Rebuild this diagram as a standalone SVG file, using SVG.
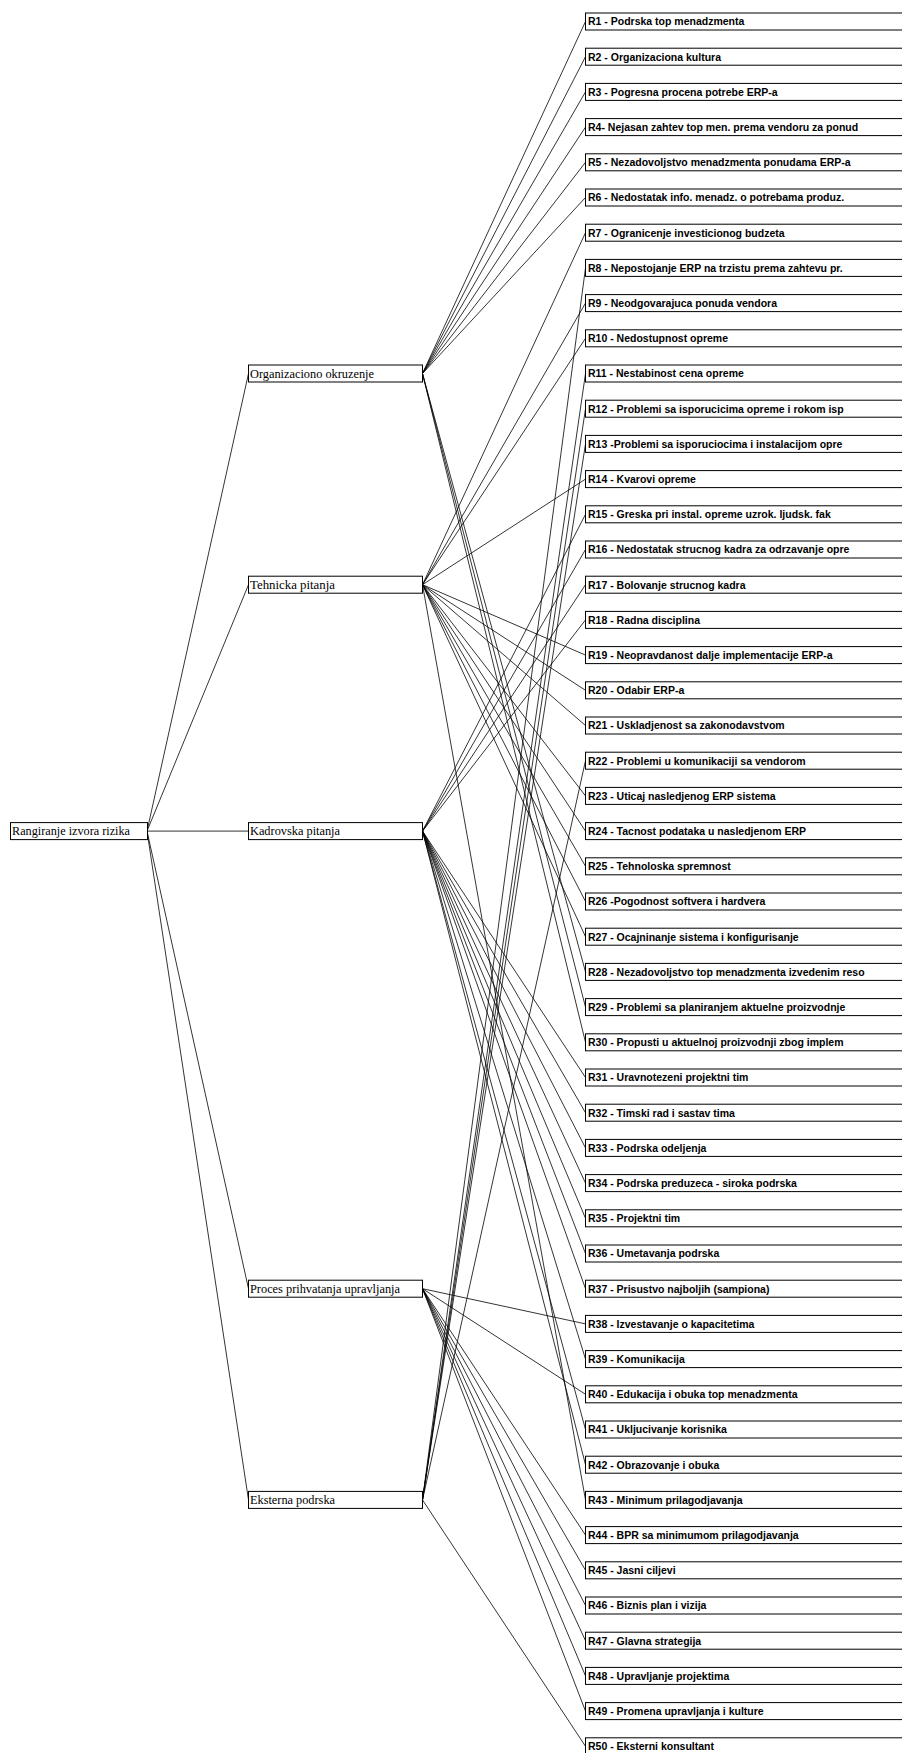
<svg xmlns="http://www.w3.org/2000/svg" width="902" height="1753" viewBox="0 0 902 1753">
<style>
.box{fill:#fff;stroke:#000;stroke-width:1}
.r{font-family:"Liberation Sans",Arial,sans-serif;font-size:10.5px;font-weight:bold;fill:#000}
.m{font-family:"Liberation Serif","Times New Roman",serif;font-size:12px;fill:#000}
.c line{stroke:#000;stroke-width:0.8}
</style>
<rect width="902" height="1753" fill="#fff"/>
<g id="connectors" class="c">
<line x1="147" y1="831.1" x2="248.5" y2="373.5"/>
<line x1="147" y1="831.1" x2="248.5" y2="584.7"/>
<line x1="147" y1="831.1" x2="248.5" y2="831.1"/>
<line x1="147" y1="831.1" x2="248.5" y2="1288.7"/>
<line x1="147" y1="831.1" x2="248.5" y2="1499.9"/>
<!-- Org -->
<line x1="422.5" y1="373.5" x2="585.5" y2="21.5"/>
<line x1="422.5" y1="373.5" x2="585.5" y2="56.7"/>
<line x1="422.5" y1="373.5" x2="585.5" y2="91.9"/>
<line x1="422.5" y1="373.5" x2="585.5" y2="127.1"/>
<line x1="422.5" y1="373.5" x2="585.5" y2="162.3"/>
<line x1="422.5" y1="373.5" x2="585.5" y2="197.5"/>
<line x1="422.5" y1="373.5" x2="585.5" y2="971.9"/>
<line x1="422.5" y1="373.5" x2="585.5" y2="1007.1"/>
<line x1="422.5" y1="373.5" x2="585.5" y2="1042.3"/>
<!-- Teh -->
<line x1="422.5" y1="584.7" x2="585.5" y2="232.7"/>
<line x1="422.5" y1="584.7" x2="585.5" y2="303.1"/>
<line x1="422.5" y1="584.7" x2="585.5" y2="338.3"/>
<line x1="422.5" y1="584.7" x2="585.5" y2="479.1"/>
<line x1="422.5" y1="584.7" x2="585.5" y2="655.1"/>
<line x1="422.5" y1="584.7" x2="585.5" y2="690.3"/>
<line x1="422.5" y1="584.7" x2="585.5" y2="725.5"/>
<line x1="422.5" y1="584.7" x2="585.5" y2="795.9"/>
<line x1="422.5" y1="584.7" x2="585.5" y2="831.1"/>
<line x1="422.5" y1="584.7" x2="585.5" y2="866.3"/>
<line x1="422.5" y1="584.7" x2="585.5" y2="901.5"/>
<line x1="422.5" y1="584.7" x2="585.5" y2="936.7"/>
<line x1="422.5" y1="584.7" x2="585.5" y2="1499.9"/>
<!-- Kadr -->
<line x1="422.5" y1="831.1" x2="585.5" y2="514.3"/>
<line x1="422.5" y1="831.1" x2="585.5" y2="549.5"/>
<line x1="422.5" y1="831.1" x2="585.5" y2="584.7"/>
<line x1="422.5" y1="831.1" x2="585.5" y2="619.9"/>
<line x1="422.5" y1="831.1" x2="585.5" y2="1077.5"/>
<line x1="422.5" y1="831.1" x2="585.5" y2="1112.7"/>
<line x1="422.5" y1="831.1" x2="585.5" y2="1147.9"/>
<line x1="422.5" y1="831.1" x2="585.5" y2="1183.1"/>
<line x1="422.5" y1="831.1" x2="585.5" y2="1218.3"/>
<line x1="422.5" y1="831.1" x2="585.5" y2="1253.5"/>
<line x1="422.5" y1="831.1" x2="585.5" y2="1288.7"/>
<line x1="422.5" y1="831.1" x2="585.5" y2="1359.1"/>
<line x1="422.5" y1="831.1" x2="585.5" y2="1429.5"/>
<line x1="422.5" y1="831.1" x2="585.5" y2="1464.7"/>
<!-- Proces -->
<line x1="422.5" y1="1288.7" x2="585.5" y2="1323.9"/>
<line x1="422.5" y1="1288.7" x2="585.5" y2="1394.3"/>
<line x1="422.5" y1="1288.7" x2="585.5" y2="1535.1"/>
<line x1="422.5" y1="1288.7" x2="585.5" y2="1570.3"/>
<line x1="422.5" y1="1288.7" x2="585.5" y2="1605.5"/>
<line x1="422.5" y1="1288.7" x2="585.5" y2="1640.7"/>
<line x1="422.5" y1="1288.7" x2="585.5" y2="1675.9"/>
<line x1="422.5" y1="1288.7" x2="585.5" y2="1711.1"/>
<!-- Eksterna -->
<line x1="422.5" y1="1499.9" x2="585.5" y2="267.9"/>
<line x1="422.5" y1="1499.9" x2="585.5" y2="373.5"/>
<line x1="422.5" y1="1499.9" x2="585.5" y2="408.7"/>
<line x1="422.5" y1="1499.9" x2="585.5" y2="443.9"/>
<line x1="422.5" y1="1499.9" x2="585.5" y2="760.7"/>
<line x1="422.5" y1="1499.9" x2="585.5" y2="1746.3"/>
</g>
<g id="root"><rect class="box" x="10.5" y="822.6" width="137" height="17"/><text class="m" x="12" y="835.3" textLength="118" lengthAdjust="spacingAndGlyphs">Rangiranje izvora rizika</text></g>
<g id="org"><rect class="box" x="248.5" y="365" width="174" height="17"/><text class="m" x="250" y="377.7" textLength="124" lengthAdjust="spacingAndGlyphs">Organizaciono okruzenje</text></g>
<g id="teh"><rect class="box" x="248.5" y="576.2" width="174" height="17"/><text class="m" x="250" y="588.9" textLength="85" lengthAdjust="spacingAndGlyphs">Tehnicka pitanja</text></g>
<g id="kadr"><rect class="box" x="248.5" y="822.6" width="174" height="17"/><text class="m" x="250" y="835.3" textLength="90" lengthAdjust="spacingAndGlyphs">Kadrovska pitanja</text></g>
<g id="proc"><rect class="box" x="248.5" y="1280.2" width="174" height="17"/><text class="m" x="250" y="1292.9" textLength="150" lengthAdjust="spacingAndGlyphs">Proces prihvatanja upravljanja</text></g>
<g id="eks"><rect class="box" x="248.5" y="1491.4" width="174" height="17"/><text class="m" x="250" y="1504.1" textLength="85" lengthAdjust="spacingAndGlyphs">Eksterna podrska</text></g>
<g id="R1"><rect class="box" x="585.5" y="13" width="330" height="17"/><text class="r" x="588" y="25.3">R1 - Podrska top menadzmenta</text></g>
<g id="R2"><rect class="box" x="585.5" y="48.2" width="330" height="17"/><text class="r" x="588" y="60.5">R2 - Organizaciona kultura</text></g>
<g id="R3"><rect class="box" x="585.5" y="83.4" width="330" height="17"/><text class="r" x="588" y="95.7">R3 - Pogresna procena potrebe ERP-a</text></g>
<g id="R4"><rect class="box" x="585.5" y="118.6" width="330" height="17"/><text class="r" x="588" y="130.9">R4- Nejasan zahtev top men. prema vendoru za ponud</text></g>
<g id="R5"><rect class="box" x="585.5" y="153.8" width="330" height="17"/><text class="r" x="588" y="166.1">R5 - Nezadovoljstvo menadzmenta ponudama ERP-a</text></g>
<g id="R6"><rect class="box" x="585.5" y="189" width="330" height="17"/><text class="r" x="588" y="201.3">R6 - Nedostatak info. menadz. o potrebama produz.</text></g>
<g id="R7"><rect class="box" x="585.5" y="224.2" width="330" height="17"/><text class="r" x="588" y="236.5">R7 - Ogranicenje investicionog budzeta</text></g>
<g id="R8"><rect class="box" x="585.5" y="259.4" width="330" height="17"/><text class="r" x="588" y="271.7">R8 - Nepostojanje ERP na trzistu prema zahtevu pr.</text></g>
<g id="R9"><rect class="box" x="585.5" y="294.6" width="330" height="17"/><text class="r" x="588" y="306.9">R9 - Neodgovarajuca ponuda vendora</text></g>
<g id="R10"><rect class="box" x="585.5" y="329.8" width="330" height="17"/><text class="r" x="588" y="342.1">R10 - Nedostupnost opreme</text></g>
<g id="R11"><rect class="box" x="585.5" y="365" width="330" height="17"/><text class="r" x="588" y="377.3">R11 - Nestabinost cena opreme</text></g>
<g id="R12"><rect class="box" x="585.5" y="400.2" width="330" height="17"/><text class="r" x="588" y="412.5">R12 - Problemi sa isporucicima opreme i rokom isp</text></g>
<g id="R13"><rect class="box" x="585.5" y="435.4" width="330" height="17"/><text class="r" x="588" y="447.7">R13 -Problemi sa isporuciocima i instalacijom opre</text></g>
<g id="R14"><rect class="box" x="585.5" y="470.6" width="330" height="17"/><text class="r" x="588" y="482.9">R14 - Kvarovi opreme</text></g>
<g id="R15"><rect class="box" x="585.5" y="505.8" width="330" height="17"/><text class="r" x="588" y="518.1">R15 - Greska pri instal. opreme uzrok. ljudsk. fak</text></g>
<g id="R16"><rect class="box" x="585.5" y="541" width="330" height="17"/><text class="r" x="588" y="553.3">R16 - Nedostatak strucnog kadra za odrzavanje opre</text></g>
<g id="R17"><rect class="box" x="585.5" y="576.2" width="330" height="17"/><text class="r" x="588" y="588.5">R17 - Bolovanje strucnog kadra</text></g>
<g id="R18"><rect class="box" x="585.5" y="611.4" width="330" height="17"/><text class="r" x="588" y="623.7">R18 - Radna disciplina</text></g>
<g id="R19"><rect class="box" x="585.5" y="646.6" width="330" height="17"/><text class="r" x="588" y="658.9">R19 - Neopravdanost dalje implementacije ERP-a</text></g>
<g id="R20"><rect class="box" x="585.5" y="681.8" width="330" height="17"/><text class="r" x="588" y="694.1">R20 - Odabir ERP-a</text></g>
<g id="R21"><rect class="box" x="585.5" y="717" width="330" height="17"/><text class="r" x="588" y="729.3">R21 - Uskladjenost sa zakonodavstvom</text></g>
<g id="R22"><rect class="box" x="585.5" y="752.2" width="330" height="17"/><text class="r" x="588" y="764.5">R22 - Problemi u komunikaciji sa vendorom</text></g>
<g id="R23"><rect class="box" x="585.5" y="787.4" width="330" height="17"/><text class="r" x="588" y="799.7">R23 - Uticaj nasledjenog ERP sistema</text></g>
<g id="R24"><rect class="box" x="585.5" y="822.6" width="330" height="17"/><text class="r" x="588" y="834.9">R24 - Tacnost podataka u nasledjenom ERP</text></g>
<g id="R25"><rect class="box" x="585.5" y="857.8" width="330" height="17"/><text class="r" x="588" y="870.1">R25 - Tehnoloska spremnost</text></g>
<g id="R26"><rect class="box" x="585.5" y="893" width="330" height="17"/><text class="r" x="588" y="905.3">R26 -Pogodnost softvera i hardvera</text></g>
<g id="R27"><rect class="box" x="585.5" y="928.2" width="330" height="17"/><text class="r" x="588" y="940.5">R27 - Ocajninanje sistema i konfigurisanje</text></g>
<g id="R28"><rect class="box" x="585.5" y="963.4" width="330" height="17"/><text class="r" x="588" y="975.7">R28 - Nezadovoljstvo top menadzmenta izvedenim reso</text></g>
<g id="R29"><rect class="box" x="585.5" y="998.6" width="330" height="17"/><text class="r" x="588" y="1010.9">R29 - Problemi sa planiranjem aktuelne proizvodnje</text></g>
<g id="R30"><rect class="box" x="585.5" y="1033.8" width="330" height="17"/><text class="r" x="588" y="1046.1">R30 - Propusti u aktuelnoj proizvodnji zbog implem</text></g>
<g id="R31"><rect class="box" x="585.5" y="1069" width="330" height="17"/><text class="r" x="588" y="1081.3">R31 - Uravnotezeni projektni tim</text></g>
<g id="R32"><rect class="box" x="585.5" y="1104.2" width="330" height="17"/><text class="r" x="588" y="1116.5">R32 - Timski rad i sastav tima</text></g>
<g id="R33"><rect class="box" x="585.5" y="1139.4" width="330" height="17"/><text class="r" x="588" y="1151.7">R33 - Podrska odeljenja</text></g>
<g id="R34"><rect class="box" x="585.5" y="1174.6" width="330" height="17"/><text class="r" x="588" y="1186.9">R34 - Podrska preduzeca - siroka podrska</text></g>
<g id="R35"><rect class="box" x="585.5" y="1209.8" width="330" height="17"/><text class="r" x="588" y="1222.1">R35 - Projektni tim</text></g>
<g id="R36"><rect class="box" x="585.5" y="1245" width="330" height="17"/><text class="r" x="588" y="1257.3">R36 - Umetavanja podrska</text></g>
<g id="R37"><rect class="box" x="585.5" y="1280.2" width="330" height="17"/><text class="r" x="588" y="1292.5">R37 - Prisustvo najboljih (sampiona)</text></g>
<g id="R38"><rect class="box" x="585.5" y="1315.4" width="330" height="17"/><text class="r" x="588" y="1327.7">R38 - Izvestavanje o kapacitetima</text></g>
<g id="R39"><rect class="box" x="585.5" y="1350.6" width="330" height="17"/><text class="r" x="588" y="1362.9">R39 - Komunikacija</text></g>
<g id="R40"><rect class="box" x="585.5" y="1385.8" width="330" height="17"/><text class="r" x="588" y="1398.1">R40 - Edukacija i obuka top menadzmenta</text></g>
<g id="R41"><rect class="box" x="585.5" y="1421" width="330" height="17"/><text class="r" x="588" y="1433.3">R41 - Ukljucivanje korisnika</text></g>
<g id="R42"><rect class="box" x="585.5" y="1456.2" width="330" height="17"/><text class="r" x="588" y="1468.5">R42 - Obrazovanje i obuka</text></g>
<g id="R43"><rect class="box" x="585.5" y="1491.4" width="330" height="17"/><text class="r" x="588" y="1503.7">R43 - Minimum prilagodjavanja</text></g>
<g id="R44"><rect class="box" x="585.5" y="1526.6" width="330" height="17"/><text class="r" x="588" y="1538.9">R44 - BPR sa minimumom prilagodjavanja</text></g>
<g id="R45"><rect class="box" x="585.5" y="1561.8" width="330" height="17"/><text class="r" x="588" y="1574.1">R45 - Jasni ciljevi</text></g>
<g id="R46"><rect class="box" x="585.5" y="1597" width="330" height="17"/><text class="r" x="588" y="1609.3">R46 - Biznis plan i vizija</text></g>
<g id="R47"><rect class="box" x="585.5" y="1632.2" width="330" height="17"/><text class="r" x="588" y="1644.5">R47 - Glavna strategija</text></g>
<g id="R48"><rect class="box" x="585.5" y="1667.4" width="330" height="17"/><text class="r" x="588" y="1679.7">R48 - Upravljanje projektima</text></g>
<g id="R49"><rect class="box" x="585.5" y="1702.6" width="330" height="17"/><text class="r" x="588" y="1714.9">R49 - Promena upravljanja i kulture</text></g>
<g id="R50"><rect class="box" x="585.5" y="1737.8" width="330" height="17"/><text class="r" x="588" y="1750.1">R50 - Eksterni konsultant</text></g>
</svg>
